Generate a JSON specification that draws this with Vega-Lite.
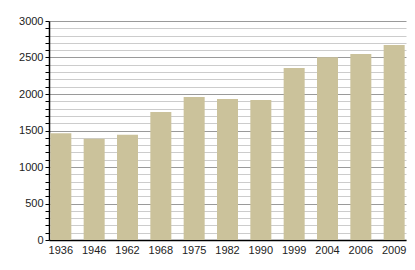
{
  "$schema": "https://vega.github.io/schema/vega-lite/v6.json",
  "autosize": {"type": "none"},
  "padding": {"left": 49, "top": 21, "right": 9, "bottom": 30},
  "width": 357,
  "height": 219,
  "background": "white",
  "data": {
    "values": [
      {"year": "1936", "population": 1462},
      {"year": "1946", "population": 1388},
      {"year": "1962", "population": 1442},
      {"year": "1968", "population": 1753},
      {"year": "1975", "population": 1959},
      {"year": "1982", "population": 1932},
      {"year": "1990", "population": 1918},
      {"year": "1999", "population": 2356},
      {"year": "2004", "population": 2502},
      {"year": "2006", "population": 2548},
      {"year": "2009", "population": 2671}
    ]
  },
  "config": {
    "view": {"stroke": null},
    "font": "Liberation Sans"
  },
  "mark": {"type": "bar", "color": "#cbc29b"},
  "encoding": {
    "x": {
      "field": "year",
      "type": "ordinal",
      "sort": null,
      "scale": {"paddingInner": 0.37, "paddingOuter": 0.04},
      "axis": {
        "title": null,
        "labelAngle": 0,
        "ticks": false,
        "labelPadding": 4,
        "labelFontSize": 11,
        "labelColor": "#222",
        "domainColor": "#000",
        "domainWidth": 1.5
      }
    },
    "y": {
      "field": "population",
      "type": "quantitative",
      "scale": {"domain": [0, 3000], "nice": false},
      "axis": {
        "title": null,
        "values": [0,100,200,300,400,500,600,700,800,900,1000,1100,1200,1300,1400,1500,1600,1700,1800,1900,2000,2100,2200,2300,2400,2500,2600,2700,2800,2900,3000],
        "labelExpr": "datum.value % 500 === 0 ? datum.label : ''",
        "format": "d",
        "labelFontSize": 11,
        "labelColor": "#222",
        "labelPadding": 2,
        "tickSize": 4,
        "tickColor": "#000",
        "domainColor": "#000",
        "domainWidth": 1.5,
        "grid": true,
        "gridColor": {"condition": {"test": "datum.value % 500 === 0", "value": "#9a9a9a"}, "value": "#cccccc"},
        "gridWidth": 1,
        "gridOpacity": 1
      }
    }
  }
}
